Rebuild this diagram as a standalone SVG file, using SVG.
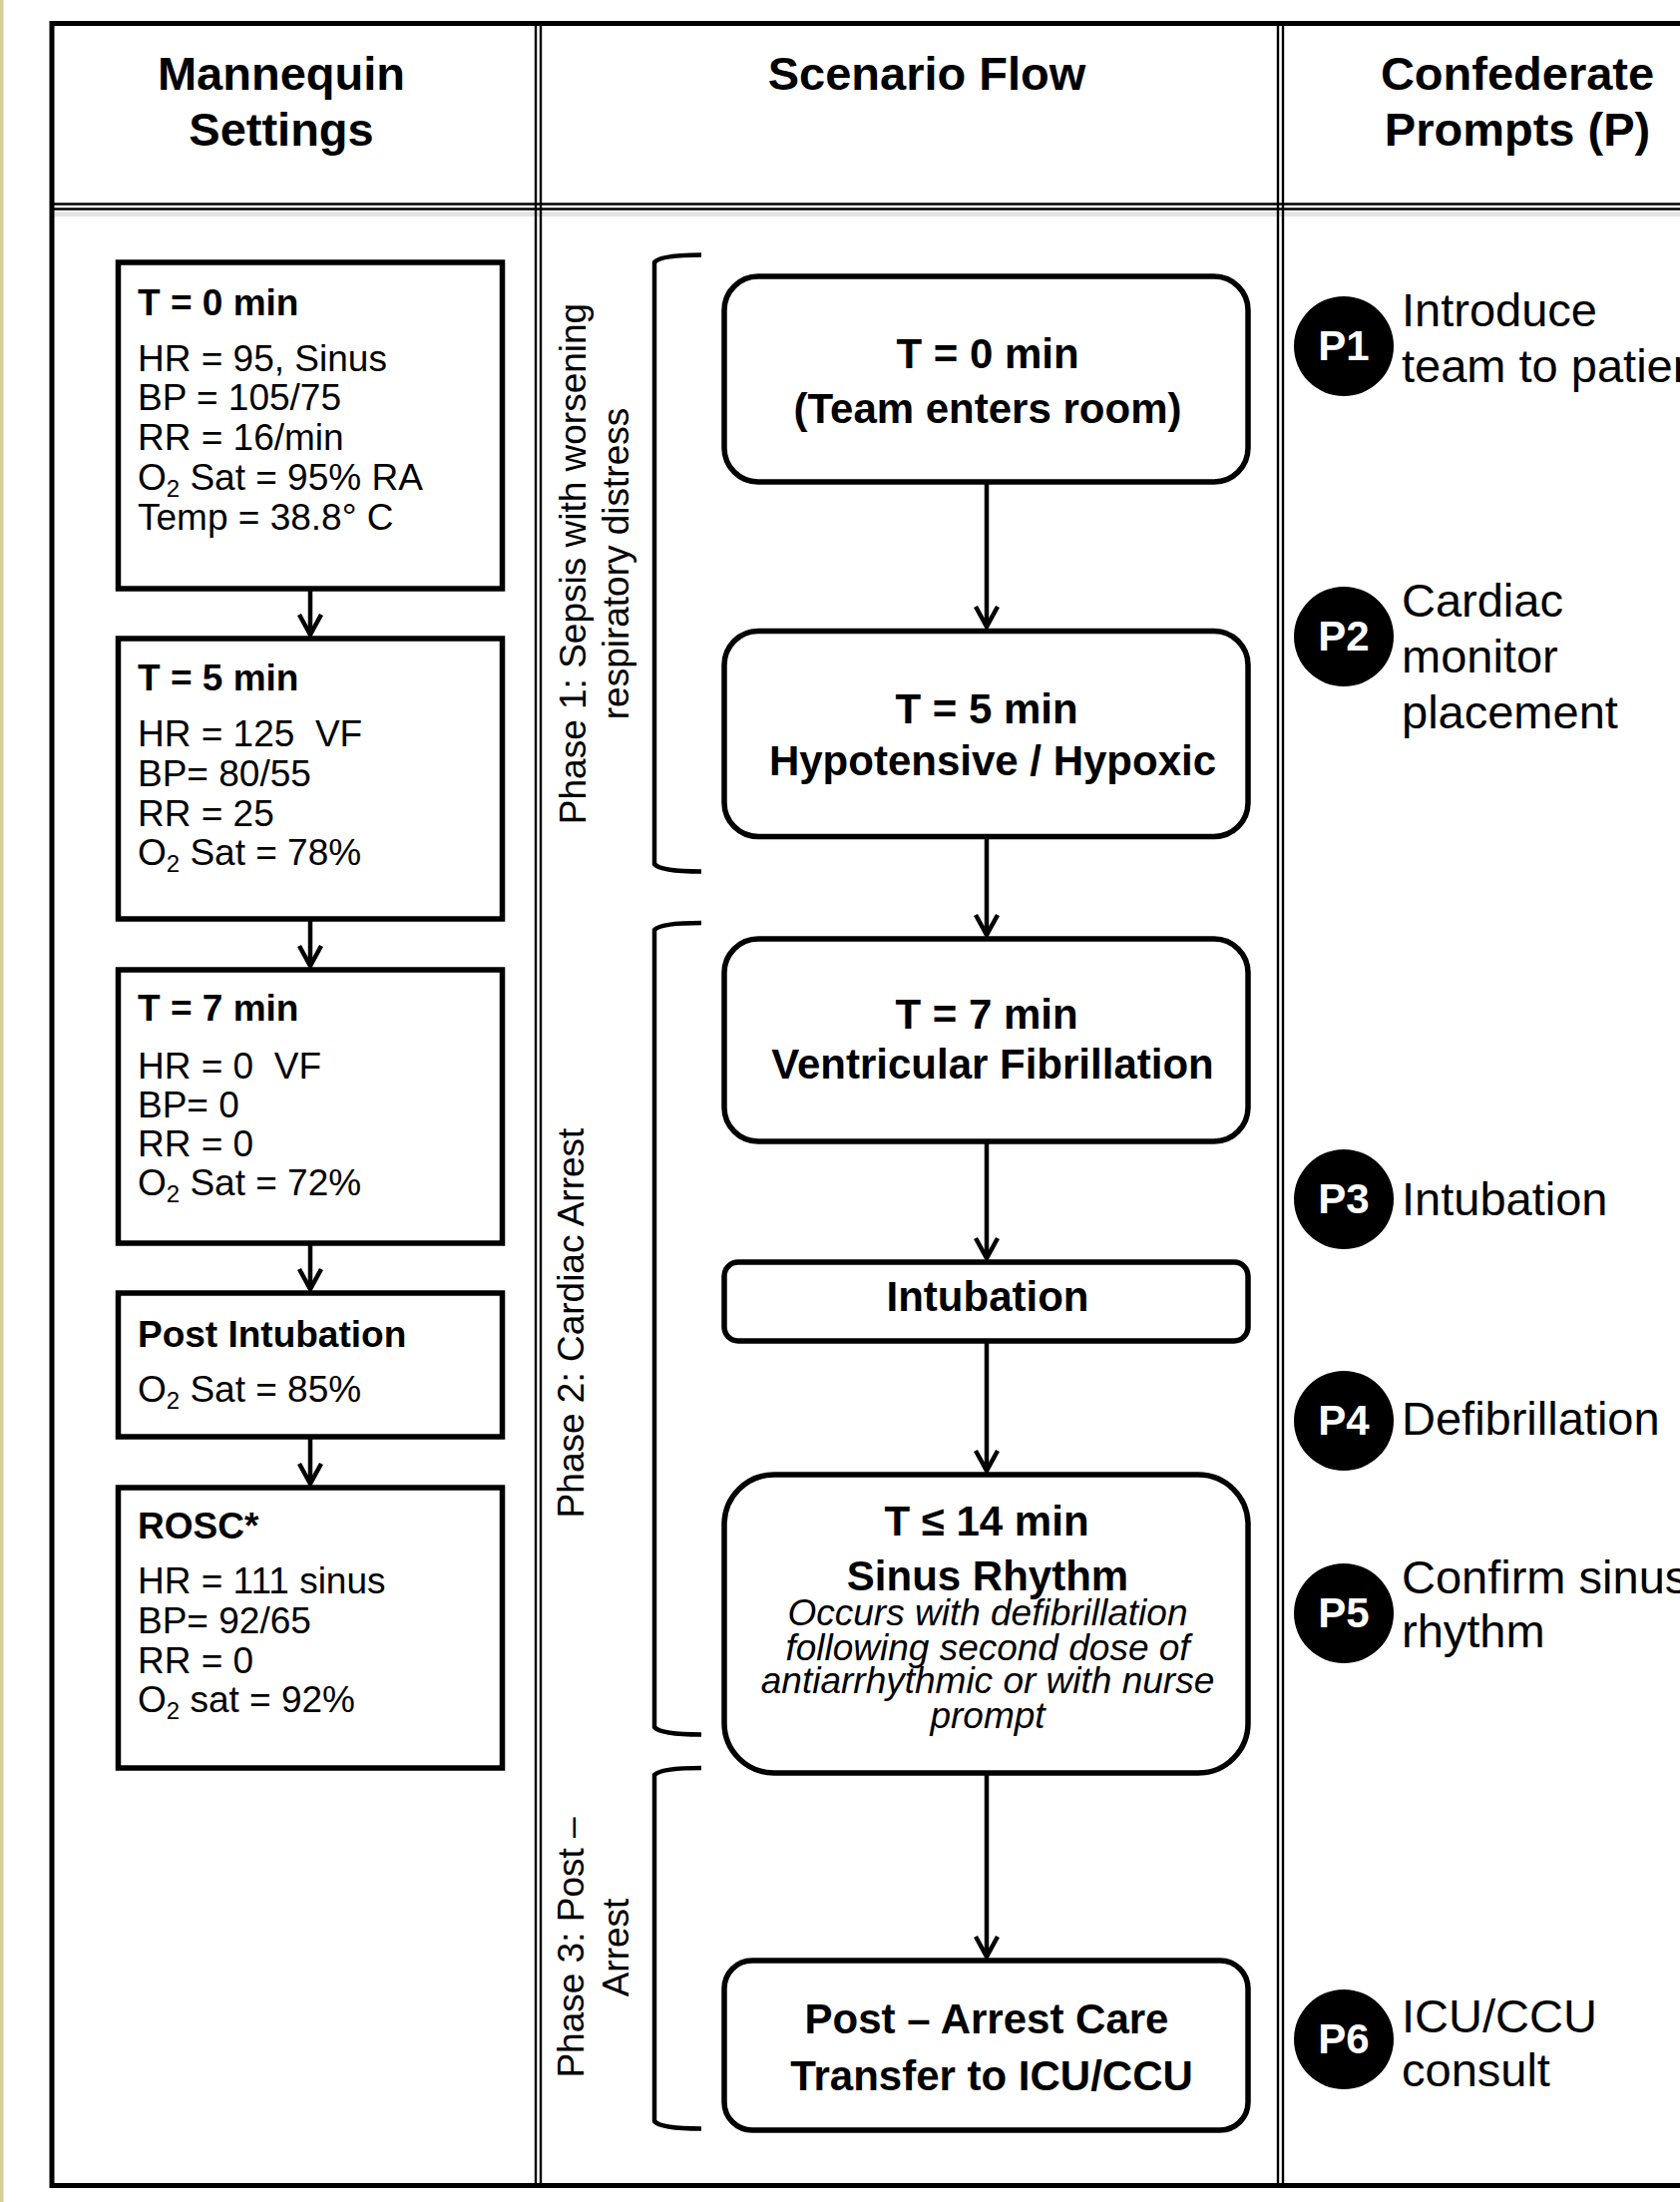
<svg xmlns="http://www.w3.org/2000/svg" width="1684" height="2207" viewBox="0 0 1684 2207">
<style>
.hdr{font-family:"Liberation Sans",Arial,sans-serif;font-weight:bold;font-size:47px;fill:#000;text-anchor:middle}
.mb{fill:#fff;stroke:#000;stroke-width:5.5;stroke-linejoin:miter}
.sb{fill:#fff;stroke:#000;stroke-width:5.5}
.t{font-family:"Liberation Sans",Arial,sans-serif;font-size:37px;fill:#000}
.tb{font-family:"Liberation Sans",Arial,sans-serif;font-size:37px;font-weight:bold;fill:#000}
.st{font-family:"Liberation Sans",Arial,sans-serif;font-size:42px;font-weight:bold;fill:#000;text-anchor:middle}
.si{font-family:"Liberation Sans",Arial,sans-serif;font-size:37px;font-style:italic;fill:#000;text-anchor:middle}
.ph{font-family:"Liberation Sans",Arial,sans-serif;font-size:37px;fill:#000;text-anchor:middle}
.pc{fill:#000}
.pn{font-family:"Liberation Sans",Arial,sans-serif;font-size:42px;font-weight:bold;fill:#fff;text-anchor:middle}
.pl{font-family:"Liberation Sans",Arial,sans-serif;font-size:47px;fill:#000}
.br{fill:none;stroke:#000;stroke-width:4.5}
.cn{fill:none;stroke:#000;stroke-width:4.5}
.grid{stroke:#000;stroke-width:2.4;fill:none}
</style>
<defs>
<marker id="ah" markerUnits="userSpaceOnUse" markerWidth="40" markerHeight="40" viewBox="-30 -20 40 40" refX="0" refY="0" orient="auto" overflow="visible">
<path d="M -20 -11 L 0 0 L -20 11" fill="none" stroke="#000" stroke-width="4.5" stroke-linejoin="miter"/>
</marker>
</defs>
<rect x="0" y="0" width="1684" height="2207" fill="#fff"/>
<rect x="0" y="0" width="3.5" height="2207" fill="#d4cf95"/>
<g id="table">
<rect x="52" y="212" width="1640" height="5" fill="#e4e4e4"/>
<path d="M52 23.5 H1700 M52 2190.5 H1700 M52 21 V2193" stroke="#000" stroke-width="5" fill="none"/>
<path class="grid" d="M52 204.5 H1700 M52 209.5 H1700"/>
<path class="grid" d="M537 26 V2188 M542 26 V2188"/>
<path class="grid" d="M1281 26 V2188 M1286 26 V2188"/>
</g>
<g id="headers">
<text class="hdr" x="282" y="90">Mannequin</text>
<text class="hdr" x="282" y="146">Settings</text>
<text class="hdr" x="929" y="90">Scenario Flow</text>
<text class="hdr" x="1521" y="90">Confederate</text>
<text class="hdr" x="1521" y="146">Prompts (P)</text>
</g>
<g id="phases">
<path class="br" d="M703 255.5 Q662 255.5 656 263 L656 866 Q662 873.5 703 873.5"/>
<path class="br" d="M703 925 Q662 925 656 932 L656 1731 Q662 1738.5 703 1738.5"/>
<path class="br" d="M703 1772 Q662 1772 656 1779 L656 2126 Q662 2133.5 703 2133.5"/>
<text class="ph" transform="translate(587,565) rotate(-90)">Phase 1: Sepsis with worsening</text>
<text class="ph" transform="translate(630,565) rotate(-90)">respiratory distress</text>
<text class="ph" transform="translate(585,1326) rotate(-90)">Phase 2: Cardiac Arrest</text>
<text class="ph" transform="translate(585,1952) rotate(-90)">Phase 3: Post –</text>
<text class="ph" transform="translate(630,1952) rotate(-90)">Arrest</text>
</g>
<g id="m1">
<rect class="mb" x="118.5" y="263" width="385" height="327"/>
<text class="tb" x="138" y="316">T = 0 min</text>
<text class="t" x="138" y="372">HR = 95, Sinus</text>
<text class="t" x="138" y="411">BP = 105/75</text>
<text class="t" x="138" y="451">RR = 16/min</text>
<text class="t" x="138" y="491">O<tspan font-size="24" dy="7">2</tspan><tspan dy="-7"> Sat = 95% RA</tspan></text>
<text class="t" x="138" y="531">Temp = 38.8° C</text>
</g>
<g id="m2">
<rect class="mb" x="118.5" y="640" width="385" height="281"/>
<text class="tb" x="138" y="692">T = 5 min</text>
<text class="t" x="138" y="748" xml:space="preserve">HR = 125  VF</text>
<text class="t" x="138" y="788">BP= 80/55</text>
<text class="t" x="138" y="828">RR = 25</text>
<text class="t" x="138" y="867">O<tspan font-size="24" dy="7">2</tspan><tspan dy="-7"> Sat = 78%</tspan></text>
</g>
<g id="m3">
<rect class="mb" x="118.5" y="972" width="385" height="274"/>
<text class="tb" x="138" y="1023">T = 7 min</text>
<text class="t" x="138" y="1081" xml:space="preserve">HR = 0  VF</text>
<text class="t" x="138" y="1120">BP= 0</text>
<text class="t" x="138" y="1159">RR = 0</text>
<text class="t" x="138" y="1198">O<tspan font-size="24" dy="7">2</tspan><tspan dy="-7"> Sat = 72%</tspan></text>
</g>
<g id="m4">
<rect class="mb" x="118.5" y="1296" width="385" height="144"/>
<text class="tb" x="138" y="1350">Post Intubation</text>
<text class="t" x="138" y="1405">O<tspan font-size="24" dy="7">2</tspan><tspan dy="-7"> Sat = 85%</tspan></text>
</g>
<g id="m5">
<rect class="mb" x="118.5" y="1491" width="385" height="281"/>
<text class="tb" x="138" y="1542">ROSC*</text>
<text class="t" x="138" y="1597">HR = 111 sinus</text>
<text class="t" x="138" y="1637">BP= 92/65</text>
<text class="t" x="138" y="1677">RR = 0</text>
<text class="t" x="138" y="1716">O<tspan font-size="24" dy="7">2</tspan><tspan dy="-7"> sat = 92%</tspan></text>
</g>
<g id="s1">
<rect class="sb" x="726" y="277" width="525" height="206" rx="34"/>
<text class="st" x="990" y="369">T = 0 min</text>
<text class="st" x="990" y="424">(Team enters room)</text>
</g>
<g id="s2">
<rect class="sb" x="726" y="632.5" width="525" height="206" rx="34"/>
<text class="st" x="989" y="725">T = 5 min</text>
<text class="st" x="995" y="777">Hypotensive / Hypoxic</text>
</g>
<g id="s3">
<rect class="sb" x="726" y="941" width="525" height="203" rx="34"/>
<text class="st" x="989" y="1031">T = 7 min</text>
<text class="st" x="995" y="1081">Ventricular Fibrillation</text>
</g>
<g id="s4">
<rect class="sb" x="726" y="1265" width="525" height="79" rx="14"/>
<text class="st" x="990" y="1314">Intubation</text>
</g>
<g id="s5">
<rect class="sb" x="726" y="1478" width="525" height="299" rx="50"/>
<text class="st" x="989" y="1539">T ≤ 14 min</text>
<text class="st" x="990" y="1594">Sinus Rhythm</text>
<text class="si" x="990" y="1629">Occurs with defibrillation</text>
<text class="si" x="990" y="1664">following second dose of</text>
<text class="si" x="990" y="1697">antiarrhythmic or with nurse</text>
<text class="si" x="990" y="1732">prompt</text>
</g>
<g id="s6">
<rect class="sb" x="726" y="1965" width="525" height="170" rx="28"/>
<text class="st" x="989" y="2038">Post – Arrest Care</text>
<text class="st" x="994" y="2095">Transfer to ICU/CCU</text>
</g>
<g id="p1">
<circle class="pc" cx="1347" cy="347" r="50"/>
<text class="pn" x="1347" y="361">P1</text>
<text class="pl" x="1405" y="327">Introduce</text>
<text class="pl" x="1405" y="383">team to patient</text>
</g>
<g id="p2">
<circle class="pc" cx="1347" cy="638" r="50"/>
<text class="pn" x="1347" y="652">P2</text>
<text class="pl" x="1405" y="618">Cardiac</text>
<text class="pl" x="1405" y="674">monitor</text>
<text class="pl" x="1405" y="730">placement</text>
</g>
<g id="p3">
<circle class="pc" cx="1347" cy="1202" r="50"/>
<text class="pn" x="1347" y="1216">P3</text>
<text class="pl" x="1405" y="1218">Intubation</text>
</g>
<g id="p4">
<circle class="pc" cx="1347" cy="1424" r="50"/>
<text class="pn" x="1347" y="1438">P4</text>
<text class="pl" x="1405" y="1438">Defibrillation</text>
</g>
<g id="p5">
<circle class="pc" cx="1347" cy="1617" r="50"/>
<text class="pn" x="1347" y="1631">P5</text>
<text class="pl" x="1405" y="1597">Confirm sinus</text>
<text class="pl" x="1405" y="1651">rhythm</text>
</g>
<g id="p6">
<circle class="pc" cx="1347" cy="2044" r="50"/>
<text class="pn" x="1347" y="2058">P6</text>
<text class="pl" x="1405" y="2037">ICU/CCU</text>
<text class="pl" x="1405" y="2091">consult</text>
</g>
<g id="connectors">
<path class="cn" d="M311 592 V636" marker-end="url(#ah)"/>
<path class="cn" d="M311 923 V968" marker-end="url(#ah)"/>
<path class="cn" d="M311 1248 V1292" marker-end="url(#ah)"/>
<path class="cn" d="M311 1442 V1487" marker-end="url(#ah)"/>
<path class="cn" d="M989 485 V628" marker-end="url(#ah)"/>
<path class="cn" d="M989 840 V937" marker-end="url(#ah)"/>
<path class="cn" d="M989 1146 V1261" marker-end="url(#ah)"/>
<path class="cn" d="M989 1346 V1474" marker-end="url(#ah)"/>
<path class="cn" d="M989 1779 V1961" marker-end="url(#ah)"/>
</g>
</svg>
